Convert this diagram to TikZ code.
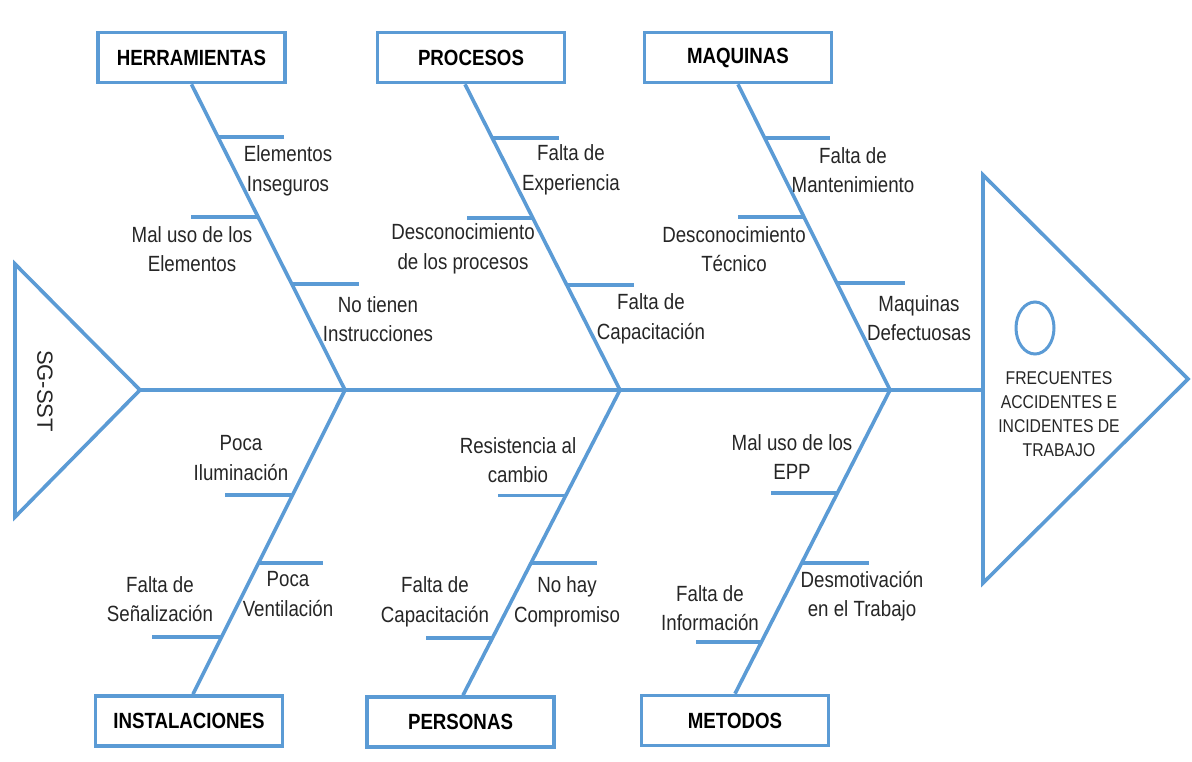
\documentclass[tikz,border=0pt]{standalone}
\usepackage{fontspec}
\setmainfont{Liberation Sans}[FakeStretch=0.85]
\newfontfamily\plainsans{Liberation Sans}
\usetikzlibrary{shapes.geometric,calc}
\definecolor{fishblue}{HTML}{5B9BD5}
\definecolor{txt}{HTML}{262626}
\begin{document}
\begin{tikzpicture}[x=1pt,y=-1pt,
  bone/.style={draw=fishblue,line width=3.6pt},
  catbox/.style={draw=fishblue,line width=3.6pt,fill=white,minimum width=187pt,minimum height=50pt,inner sep=0pt,text=black,font=\bfseries\fontsize{22}{26}\selectfont},
  lbl/.style={align=center,text=txt,inner sep=0pt,font=\fontsize{22}{29.5}\selectfont},
  headtxt/.style={align=center,text=txt,inner sep=0pt,font=\fontsize{18.5}{24}\selectfont}]
\useasboundingbox (0,0) rectangle (1192,761);
\fill[white] (0,0) rectangle (1192,761);

% triangles
\coordinate (lt1) at (15,264);
\coordinate (lt2) at (15,517);
\coordinate (lta) at (140,390);
\coordinate (rt1) at (983,175);
\coordinate (rt2) at (983,583);
\coordinate (rta) at (1188,379);
\draw[bone,line join=miter] (lt1) -- (lta) -- (lt2) -- cycle;
\draw[bone,line join=miter] (rt1) -- (rta) -- (rt2) -- cycle;

% spine
\coordinate (j1) at (345,390);
\coordinate (j2) at (620,390);
\coordinate (j3) at (890,390);
\coordinate (spineend) at (983,390);
\draw[bone] (lta) -- (spineend);

% category boxes
\node[catbox] (herr) at (191.5,57.5) {HERRAMIENTAS};
\node[catbox] (proc) at (471,57.5) {PROCESOS};
\node[catbox] (maq)  at (738,57.5) {MAQUINAS};
\node[catbox] (inst) at (189,721) {INSTALACIONES};
\node[catbox] (pers) at (460.5,722) {PERSONAS};
\node[catbox] (met)  at (735,720.5) {METODOS};

% main bones
\draw[bone] (herr.south) -- (j1) coordinate[pos=0.173] (h1) coordinate[pos=0.435] (h2) coordinate[pos=0.654] (h3);
\draw[bone] ([xshift=-6pt]proc.south) -- (j2) coordinate[pos=0.176] (p1) coordinate[pos=0.438] (p2) coordinate[pos=0.657] (p3);
\draw[bone] (maq.south) -- (j3) coordinate[pos=0.176] (m1) coordinate[pos=0.435] (m2) coordinate[pos=0.650] (m3);
\draw[bone] (j1) -- ([xshift=4pt]inst.north) coordinate[pos=0.345] (i1) coordinate[pos=0.569] (i2) coordinate[pos=0.812] (i3);
\draw[bone] (j2) -- ([xshift=2.5pt]pers.north) coordinate[pos=0.345] (e1) coordinate[pos=0.566] (e2) coordinate[pos=0.812] (e3);
\draw[bone] (j3) -- (met.north) coordinate[pos=0.339] (t1) coordinate[pos=0.569] (t2) coordinate[pos=0.829] (t3);

% sub-bones
\draw[bone] (h1) -- ++(66,0);
\draw[bone] (h2) -- ++(-67,0);
\draw[bone] (h3) -- ++(67,0);
\draw[bone] (p1) -- ++(67,0);
\draw[bone] (p2) -- ++(-66,0);
\draw[bone] (p3) -- ++(67,0);
\draw[bone] (m1) -- ++(65,0);
\draw[bone] (m2) -- ++(-66,0);
\draw[bone] (m3) -- ++(68,0);
\draw[bone] (i1) -- ++(-68,0);
\draw[bone] (i2) -- ++(64,0);
\draw[bone] (i3) -- ++(-70,0);
\draw[bone] (e1) -- ++(-68,0);
\draw[bone] (e2) -- ++(66,0);
\draw[bone] (e3) -- ++(-67,0);
\draw[bone] (t1) -- ++(-66,0);
\draw[bone] (t2) -- ++(67,0);
\draw[bone] (t3) -- ++(-66,0);

% labels
\node[lbl] (lh1) at (288,171) {Elementos\\Inseguros};
\node[lbl] (lh2) at (192,249) {Mal uso de los\\Elementos};
\node[lbl] (lh3) at (378,319) {No tienen\\Instrucciones};
\node[lbl] (lp1) at (571,170) {Falta de\\Experiencia};
\node[lbl] (lp2) at (463,249) {Desconocimiento\\de los procesos};
\node[lbl] (lp3) at (651,319) {Falta de\\Capacitación};
\node[lbl] (lm1) at (853,170) {Falta de\\Mantenimiento};
\node[lbl] (lm2) at (734,249) {Desconocimiento\\Técnico};
\node[lbl] (lm3) at (919,318) {Maquinas\\Defectuosas};
\node[lbl] (li1) at (241,458) {Poca\\Iluminación};
\node[lbl] (li2) at (288,594) {Poca\\Ventilación};
\node[lbl] (li3) at (160,599) {Falta de\\Señalización};
\node[lbl] (le1) at (518,460) {Resistencia al\\cambio};
\node[lbl] (le2) at (567,602) {No hay\\Compromiso};
\node[lbl] (le3) at (435,602) {Falta de\\Capacitación};
\node[lbl] (lt1l) at (792,457) {Mal uso de los\\EPP};
\node[lbl] (lt2l) at (862,596) {Desmotivación\\en el Trabajo};
\node[lbl] (lt3l) at (710,608) {Falta de\\Información};

% head and tail
\node[draw=fishblue,line width=3pt,ellipse,minimum width=38pt,minimum height=52pt,inner sep=0pt] (circ) at (1035,328) {};
\node[headtxt] (effect) at (1059,414) {FRECUENTES\\ACCIDENTES E\\INCIDENTES DE\\TRABAJO};
\node[rotate=-90,text=txt,inner sep=0pt,font=\plainsans\fontsize{22}{22}\selectfont] (tail) at (45,391) {SG-SST};
\end{tikzpicture}
\end{document}
